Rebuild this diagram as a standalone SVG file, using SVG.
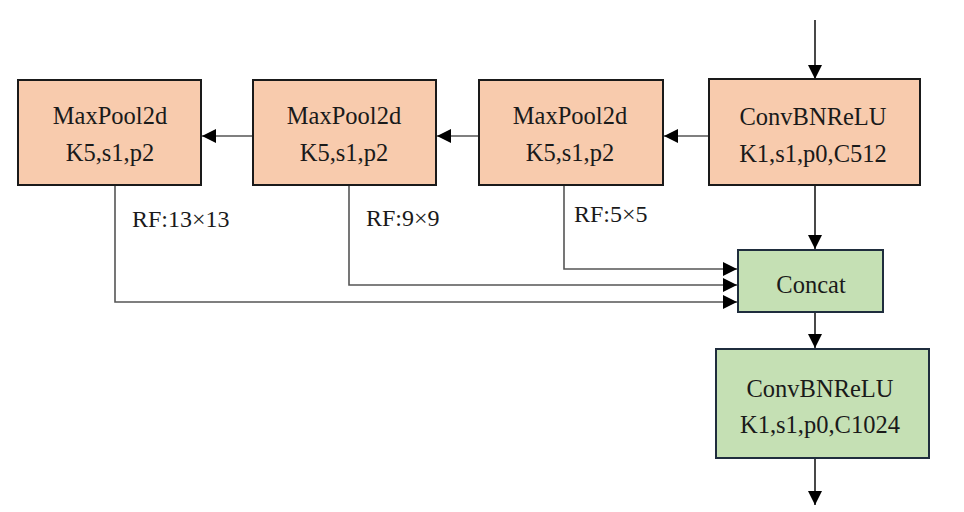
<svg xmlns="http://www.w3.org/2000/svg" width="964" height="512" viewBox="0 0 964 512">
<style>
.o{fill:#F8CBAD;stroke:#1a1a1a;stroke-width:2}
.g{fill:#C5E0B4;stroke:#1F2D3D;stroke-width:2}
.t{font-size:24.5px;fill:#1a1a1a;text-anchor:middle}
.l{font-size:24px;fill:#1a1a1a}
.c{fill:none;stroke:#555;stroke-width:1.6}
.k{fill:none;stroke:#1a1a1a;stroke-width:1.6}
</style>
<defs>
<marker id="a" viewBox="0 0 14 14" refX="14" refY="7" markerWidth="14" markerHeight="14" markerUnits="userSpaceOnUse" orient="auto">
<path d="M0,0 L14,7 L0,14 z" fill="#000"/>
</marker>
</defs>
<rect width="964" height="512" fill="#fff"/>
<g font-family="Liberation Serif, Times New Roman, serif">
<g id="connectors">
<line class="k" x1="815" y1="20" x2="815" y2="79" marker-end="url(#a)"/>
<line class="c" x1="709" y1="136" x2="664" y2="136" marker-end="url(#a)"/>
<line class="c" x1="479" y1="136" x2="437" y2="136" marker-end="url(#a)"/>
<line class="c" x1="253" y1="136" x2="202" y2="136" marker-end="url(#a)"/>
<line class="k" x1="815" y1="185" x2="815" y2="249" marker-end="url(#a)"/>
<polyline class="c" points="564,185 564,269 737,269" marker-end="url(#a)"/>
<polyline class="c" points="349,185 349,285 737,285" marker-end="url(#a)"/>
<polyline class="c" points="115,185 115,302 737,302" marker-end="url(#a)"/>
<line class="k" x1="815" y1="312" x2="815" y2="348" marker-end="url(#a)"/>
<line class="k" x1="815" y1="458" x2="815" y2="505" marker-end="url(#a)"/>
<text class="l" x="132" y="227">RF:13×13</text>
<text class="l" x="366" y="226">RF:9×9</text>
<text class="l" x="574" y="222">RF:5×5</text>
</g>
<g id="maxpool3">
<rect class="o" x="18" y="80" width="183" height="105"/>
<text class="t" x="110" y="124">MaxPool2d</text>
<text class="t" x="110" y="161">K5,s1,p2</text>
</g>
<g id="maxpool2">
<rect class="o" x="253" y="80" width="183" height="105"/>
<text class="t" x="344" y="124">MaxPool2d</text>
<text class="t" x="344" y="161">K5,s1,p2</text>
</g>
<g id="maxpool1">
<rect class="o" x="479" y="80" width="184" height="105"/>
<text class="t" x="570" y="124">MaxPool2d</text>
<text class="t" x="570" y="161">K5,s1,p2</text>
</g>
<g id="conv1">
<rect class="o" x="709" y="79" width="211" height="106"/>
<text class="t" x="813" y="125">ConvBNReLU</text>
<text class="t" x="813" y="162">K1,s1,p0,C512</text>
</g>
<g id="concat">
<rect class="g" x="738" y="250" width="145" height="62"/>
<text class="t" x="811" y="293">Concat</text>
</g>
<g id="conv2">
<rect class="g" x="716" y="349" width="213" height="109"/>
<text class="t" x="820" y="397">ConvBNReLU</text>
<text class="t" x="820" y="433">K1,s1,p0,C1024</text>
</g>
</g>
</svg>
